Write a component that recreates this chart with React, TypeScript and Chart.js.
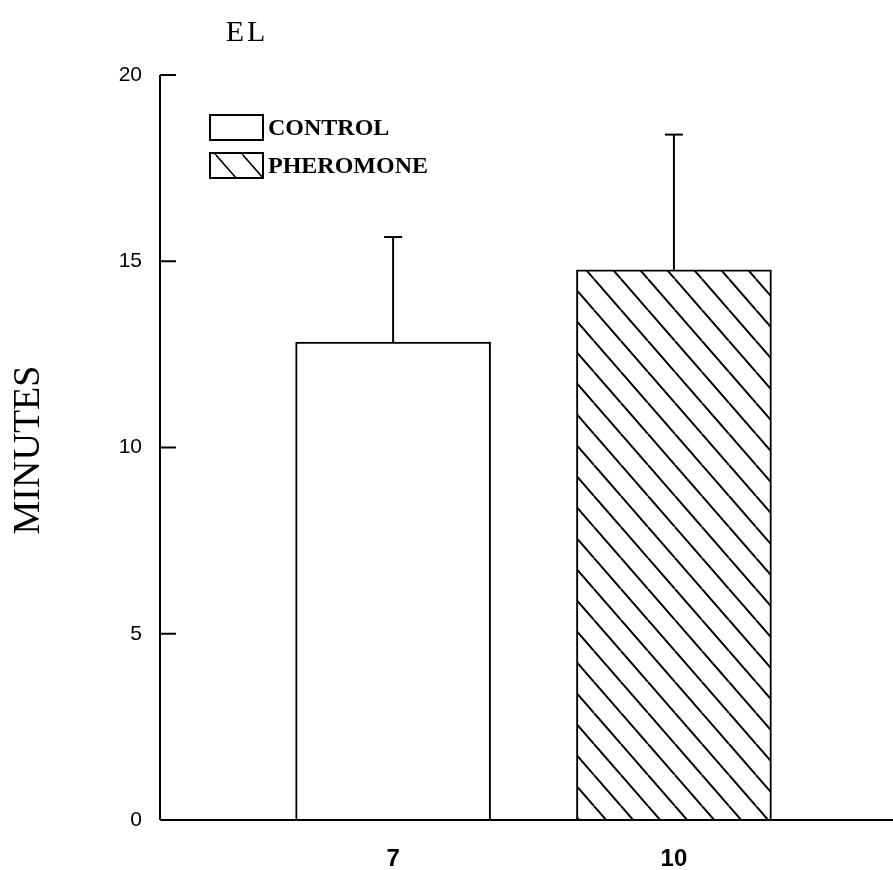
import React, { useEffect, useRef } from "react";
import { Chart, registerables } from "chart.js";
Chart.register(...registerables);

const groups = ["CONTROL", "PHEROMONE"];
const sampleSizes = ["7", "10"];
const positions = [1, 2];
const means = [12.83, 14.77];
const errorTops = [15.65, 18.4];
const yTicks = [0, 5, 10, 15, 20];
const chartTitle = "EL";
const yTitle = "MINUTES";

function makeHatch(ctx: CanvasRenderingContext2D, lw = 2) {
  const c = document.createElement("canvas");
  const w = 27, h = 31;
  c.width = w; c.height = h;
  const g = c.getContext("2d")!;
  g.fillStyle = "#fff";
  g.fillRect(0, 0, w, h);
  g.strokeStyle = "#000";
  g.lineWidth = lw;
  for (const off of [-w, 0, w]) {
    g.beginPath();
    g.moveTo(off, 0);
    g.lineTo(off + w, h);
    g.stroke();
  }
  return ctx.createPattern(c, "repeat")!;
}

function line(ctx: CanvasRenderingContext2D, x1: number, y1: number, x2: number, y2: number) {
  ctx.beginPath();
  ctx.moveTo(x1, y1);
  ctx.lineTo(x2, y2);
  ctx.stroke();
}

const decor = {
  id: "decor",
  afterDatasetsDraw(chart: any) {
    const { ctx, chartArea, scales } = chart;
    const x = scales.x, y = scales.y;
    ctx.save();
    ctx.strokeStyle = "#000";
    ctx.lineWidth = 2;
    // error bars
    positions.forEach((p, i) => {
      const px = x.getPixelForValue(p);
      const y0 = y.getPixelForValue(means[i]);
      const y1 = y.getPixelForValue(errorTops[i]);
      line(ctx, px, y0, px, y1);
      line(ctx, px - 9, y1, px + 9, y1);
    });
    // axes
    const left = chartArea.left;
    const bottom = y.getPixelForValue(0);
    line(ctx, left, y.getPixelForValue(yTicks[yTicks.length - 1]), left, bottom);
    line(ctx, left, bottom, chartArea.right, bottom);
    yTicks.forEach((t) => {
      const py = y.getPixelForValue(t);
      line(ctx, left, py, left + 16, py);
    });
    // title
    ctx.fillStyle = "#000";
    ctx.textAlign = "center";
    ctx.textBaseline = "middle";
    ctx.font = "30px 'Liberation Serif'";
    (ctx as any).letterSpacing = "3px";
    ctx.fillText(chartTitle, left + 87, 33);
    (ctx as any).letterSpacing = "0px";
    // y title
    ctx.save();
    ctx.translate(29, 450);
    ctx.rotate(-Math.PI / 2);
    ctx.font = "38px 'Liberation Serif'";
    ctx.fillText(yTitle, 0, 0);
    ctx.restore();
    // legend
    const fills = ["#fff", makeHatch(ctx, 1.5)];
    const boxTops = [115, 153];
    ctx.textAlign = "left";
    ctx.font = "bold 24px 'Liberation Serif'";
    groups.forEach((g, i) => {
      const bx = left + 50, by = boxTops[i], bw = 53, bh = 25;
      ctx.fillStyle = fills[i] as any;
      ctx.fillRect(bx, by, bw, bh);
      ctx.lineWidth = 2;
      ctx.strokeRect(bx, by, bw, bh);
      ctx.fillStyle = "#000";
      ctx.fillText(g, bx + 58, by + bh / 2 + 1);
    });
    ctx.restore();
  },
};

export default function App() {
  const ref = useRef<HTMLCanvasElement>(null);
  useEffect(() => {
    const canvas = ref.current!;
    const ctx = canvas.getContext("2d")!;
    const hatch = makeHatch(ctx);
    const chart = new Chart(canvas, {
      type: "bar",
      data: {
        datasets: [
          {
            label: groups.join(" / "),
            data: positions.map((p, i) => ({ x: p, y: means[i] })),
            backgroundColor: ["#fff", hatch] as any,
            borderColor: "#000",
            borderWidth: 2,
            barThickness: 195,
          },
        ],
      },
      options: {
        animation: false,
        responsive: true,
        maintainAspectRatio: false,
        layout: { padding: { top: 75, left: 0, right: 0, bottom: 0 } },
        plugins: { legend: { display: false }, tooltip: { enabled: false } },
        scales: {
          x: {
            type: "linear",
            offset: false,
            bounds: "data",
            min: 0.17,
            max: 2.78,
            grid: { display: false, drawTicks: false, offset: false },
            border: { display: false },
            afterBuildTicks: (s: any) => {
              s.ticks = positions.map((v) => ({ value: v }));
            },
            afterFit: (s: any) => {
              s.height = 50;
            },
            ticks: {
              autoSkip: false,
              maxRotation: 0,
              padding: 25,
              color: "#000",
              font: { family: "'Liberation Sans'", size: 24, weight: "bold" },
              callback: (v: any) => {
                const i = positions.indexOf(Number(v));
                return i >= 0 ? sampleSizes[i] : "";
              },
            },
          },
          y: {
            min: 0,
            max: 20,
            grid: { display: false, drawTicks: false },
            border: { display: false },
            afterFit: (s: any) => {
              s.width = 160;
            },
            ticks: {
              stepSize: 5,
              padding: 18,
              color: "#000",
              font: { family: "'Liberation Sans'", size: 21 },
            },
          },
        },
      },
      plugins: [decor],
    } as any);
    return () => chart.destroy();
  }, []);
  return (
    <div style={{ position: "fixed", left: 0, top: 0, width: 893, height: 870, background: "#fff" }}>
      <canvas ref={ref} />
    </div>
  );
}
